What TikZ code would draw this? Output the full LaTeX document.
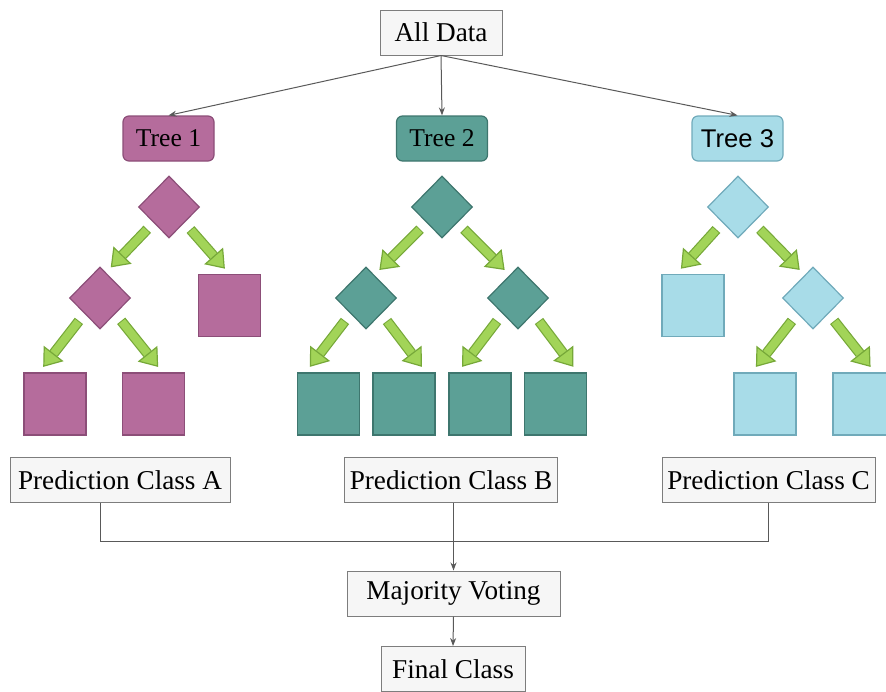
\documentclass[tikz,border=0pt]{standalone}
\usepackage{fontspec}
\setmainfont{Liberation Serif}
\newfontfamily\arialfont{Liberation Sans}
\usepackage{xcolor}
\usepackage{tikz}
\usetikzlibrary{arrows.meta, positioning, calc, shapes.geometric}

\definecolor{treeA}{RGB}{181,108,156}
\definecolor{treeAline}{RGB}{140,78,120}
\definecolor{treeB}{RGB}{92,160,150}
\definecolor{treeBline}{RGB}{62,118,110}
\definecolor{treeC}{RGB}{168,220,232}
\definecolor{treeCline}{RGB}{112,170,186}
\definecolor{leafgreen}{RGB}{162,212,88}
\definecolor{leafedge}{RGB}{118,168,56}
\definecolor{boxfill}{RGB}{246,246,246}
\definecolor{boxline}{RGB}{125,125,125}

\tikzset{
  box/.style={draw=boxline, fill=boxfill, line width=0.5pt, minimum height=22.5pt, inner sep=0pt, font=\fontsize{13.6}{16}\selectfont},
  treebox/.style={rounded corners=3pt, minimum width=45.5pt, minimum height=22.5pt, inner sep=0pt, line width=0.6pt, font=\fontsize{12.8}{15}\selectfont},
  split/.style={diamond, minimum width=30.5pt, minimum height=31pt, inner sep=0pt, line width=0.6pt},
  leaf/.style={rectangle, minimum size=31pt, inner sep=0pt, line width=0.6pt},
  wire/.style={draw=black!65, line width=0.5pt},
  feed/.style={wire, -{Stealth[length=4pt, width=3pt]}},
  branchedge/.style={draw=leafedge, line width=5.2pt, shorten <=4.5pt, shorten >=12pt},
  branchfill/.style={draw=leafgreen, line width=4pt, shorten <=5pt, shorten >=3.5pt,
    -{Triangle[length=8.5pt, width=12.5pt, fill=leafgreen, color=leafedge, line width=0.6pt]}},
}
\newcommand{\branch}[2]{\draw[branchedge] (#1) -- (#2); \draw[branchfill] (#1) -- (#2);}

\begin{document}
\begin{tikzpicture}[x=0.5pt, y=-0.5pt]
    \useasboundingbox (0,0) rectangle (886,691);

    % 数据与三棵树
    \node[box, minimum width=61pt] (alldata) at (441,32.5) {All Data};
    \node[treebox, draw=treeAline, fill=treeA] (tree1) at (168.5,138.5) {Tree 1};
    \node[treebox, draw=treeBline, fill=treeB] (tree2) at (442,138.5) {Tree 2};
    \node[treebox, draw=treeCline, fill=treeC, font=\arialfont\fontsize{12.8}{15}\selectfont] (tree3) at (737.5,138.5) {Tree 3};
    \draw[feed] (alldata.south) -- (tree1.north);
    \draw[feed] (alldata.south) -- (tree2.north);
    \draw[feed] (alldata.south) -- (tree3.north);

    % 第一棵树
    \node[split, draw=treeAline, fill=treeA] (r1) at (169,207) {};
    \node[split, draw=treeAline, fill=treeA] (d1) at (100,298) {};
    \node[leaf, draw=treeAline, fill=treeA] (s1) at (229.5,305.5) {};
    \node[leaf, draw=treeAline, fill=treeA] (l1) at (55,404) {};
    \node[leaf, draw=treeAline, fill=treeA] (l2) at (153.5,404) {};
    \branch{r1.south west}{d1.77}
    \branch{r1.south east}{s1.north}
    \branch{d1.south west}{l1.117}
    \branch{d1.south east}{l2.74}

    % 第二棵树
    \node[split, draw=treeBline, fill=treeB] (r2) at (442,207) {};
    \node[split, draw=treeBline, fill=treeB] (d2a) at (366,298) {};
    \node[split, draw=treeBline, fill=treeB] (d2b) at (518,298) {};
    \node[leaf, draw=treeBline, fill=treeB] (m1) at (328.5,404) {};
    \node[leaf, draw=treeBline, fill=treeB] (m2) at (404,404) {};
    \node[leaf, draw=treeBline, fill=treeB] (m3) at (480,404) {};
    \node[leaf, draw=treeBline, fill=treeB] (m4) at (555.5,404) {};
    \branch{r2.south west}{d2a.70}
    \branch{r2.south east}{d2b.110}
    \branch{d2a.south west}{m1.126}
    \branch{d2a.south east}{m2.55}
    \branch{d2b.south west}{m3.125}
    \branch{d2b.south east}{m4.55}

    % 第三棵树
    \node[split, draw=treeCline, fill=treeC] (r3) at (738,207) {};
    \node[leaf, draw=treeCline, fill=treeC] (s3) at (693,305.5) {};
    \node[split, draw=treeCline, fill=treeC] (d3) at (813,298) {};
    \node[leaf, draw=treeCline, fill=treeC] (n1) at (765,404) {};
    \node[leaf, draw=treeCline, fill=treeC] (n2) at (864,404) {};
    \branch{r3.south west}{s3.118}
    \branch{r3.south east}{d3.110}
    \branch{d3.south west}{n1.113}
    \branch{d3.south east}{n2.71}

    % 预测与投票
    \node[box, minimum width=110pt] (predA) at (120,480) {Prediction Class A};
    \node[box, minimum width=106.5pt] (predB) at (451,480) {Prediction Class B};
    \node[box, minimum width=106.5pt] (predC) at (768.5,480) {Prediction Class C};
    \node[box, minimum width=106.5pt] (vote) at (453.5,593.5) {Majority Voting};
    \node[box, minimum width=72pt] (final) at (453,669) {Final Class};
    \coordinate (join) at (453,541);
    \draw[wire] ([xshift=-10pt]predA.south) |- (join) -| (predC.south);
    \draw[feed] (predB.south -| vote.north) -- (vote.north);
    \draw[feed] (vote.south) -- (final.north);
\end{tikzpicture}
\end{document}
